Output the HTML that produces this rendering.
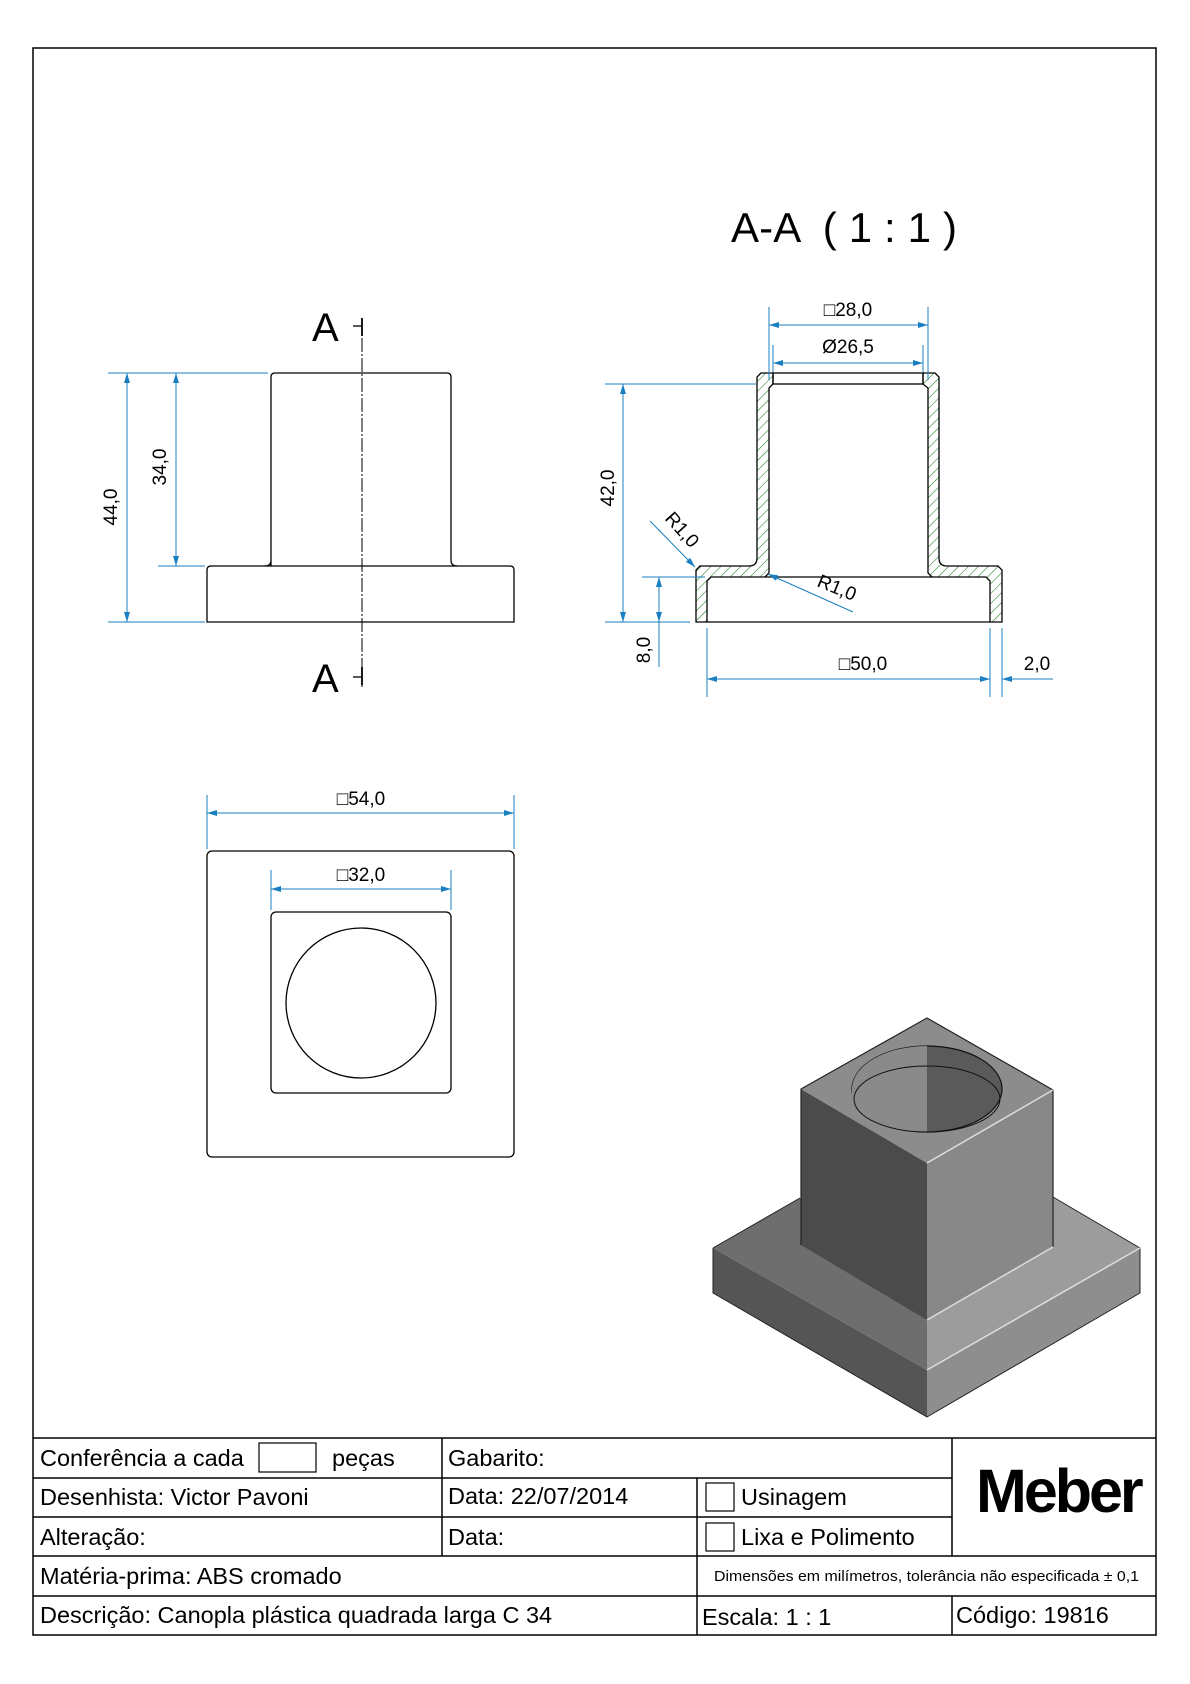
<!DOCTYPE html>
<html><head><meta charset="utf-8"><style>
html,body{margin:0;padding:0;background:#fff}
svg{display:block}
text{font-family:"Liberation Sans",sans-serif}
</style></head><body>
<svg width="1190" height="1684" viewBox="0 0 1190 1684" xmlns="http://www.w3.org/2000/svg">
<defs>
<pattern id="h" patternUnits="userSpaceOnUse" width="7" height="7" patternTransform="rotate(45)">
<line x1="0" y1="0" x2="0" y2="7" stroke="#1f7f1f" stroke-width="1.1"/>
</pattern>
<marker id="a" viewBox="0 0 10 6" refX="10" refY="3" markerWidth="10" markerHeight="6" orient="auto-start-reverse" markerUnits="userSpaceOnUse">
<path d="M0,0 L10,3 L0,6 z" fill="#1a7fc0"/>
</marker>
</defs>
<rect x="33" y="48" width="1123" height="1587" fill="none" stroke="#000" stroke-width="1.5"/>

<!-- Front view -->
<g fill="none" stroke="#000" stroke-width="1.3">
<path d="M271,566 L271,377 Q271,373 275,373 L447,373 Q451,373 451,377 L451,560 Q451,566 457,566 M271,560 Q271,566 265,566"/>
<path d="M211,566 L510,566 Q514,566 514,570 L514,622 L207,622 L207,570 Q207,566 211,566 Z"/>
</g>
<line x1="362" y1="318" x2="362" y2="687" stroke="#000" stroke-width="1" stroke-dasharray="14,2,2,2"/>
<line x1="353" y1="326" x2="362" y2="326" stroke="#000" stroke-width="1.3"/>
<line x1="362" y1="318" x2="362" y2="336" stroke="#000" stroke-width="1.8"/>
<line x1="353" y1="677" x2="362" y2="677" stroke="#000" stroke-width="1.3"/>
<line x1="362" y1="667" x2="362" y2="685" stroke="#000" stroke-width="1.8"/>
<text x="312" y="341" font-size="40">A</text>
<text x="312" y="692" font-size="40">A</text>
<g stroke="#1a7fc0" stroke-width="1" fill="none">
<line x1="108" y1="373" x2="268" y2="373"/>
<line x1="108" y1="622" x2="205" y2="622"/>
<line x1="158" y1="566" x2="205" y2="566"/>
<line x1="127" y1="373" x2="127" y2="622" marker-start="url(#a)" marker-end="url(#a)"/>
<line x1="176" y1="373" x2="176" y2="566" marker-start="url(#a)" marker-end="url(#a)"/>
</g>
<text transform="translate(117,507) rotate(-90)" font-size="19" text-anchor="middle">44,0</text>
<text transform="translate(166,467) rotate(-90)" font-size="19" text-anchor="middle">34,0</text>

<!-- Top view -->
<rect x="207" y="851" width="307" height="306" rx="5" fill="none" stroke="#000" stroke-width="1.3"/>
<rect x="271" y="912" width="180" height="181" rx="5" fill="none" stroke="#000" stroke-width="1.3"/>
<circle cx="361" cy="1003" r="75" fill="none" stroke="#000" stroke-width="1.3"/>
<g stroke="#1a7fc0" stroke-width="1" fill="none">
<line x1="207" y1="795" x2="207" y2="849"/>
<line x1="514" y1="795" x2="514" y2="849"/>
<line x1="207" y1="813" x2="514" y2="813" marker-start="url(#a)" marker-end="url(#a)"/>
<line x1="271" y1="870" x2="271" y2="910"/>
<line x1="451" y1="870" x2="451" y2="910"/>
<line x1="271" y1="889" x2="451" y2="889" marker-start="url(#a)" marker-end="url(#a)"/>
</g>
<text x="361" y="805" font-size="19" text-anchor="middle">□54,0</text>
<text x="361" y="881" font-size="19" text-anchor="middle">□32,0</text>

<!-- Section A-A -->
<text x="731" y="242" font-size="42" xml:space="preserve" textLength="226" lengthAdjust="spacing">A-A  ( 1 : 1 )</text>
<g stroke="#000" stroke-width="1.3" fill="url(#h)">
<path d="M761,373 L757,377 L757,558 Q757,566 749,566 L700,566 L696,570 L696,622 L707,622 L707,581 L711,577 L765,577 L769,573 L769,388 L773,384 L773,373 Z"/>
<path d="M935,373 L939,377 L939,558 Q939,566 947,566 L998,566 L1002,570 L1002,622 L990,622 L990,581 L986,577 L932,577 L928,573 L928,388 L923,384 L923,373 Z"/>
</g>
<g stroke="#000" stroke-width="1.3" fill="none">
<rect x="773" y="373" width="150" height="11"/>
<line x1="765" y1="577" x2="932" y2="577"/>
<line x1="707" y1="622" x2="990" y2="622"/>
</g>
<g stroke="#1a7fc0" stroke-width="1" fill="none">
<line x1="769" y1="307" x2="769" y2="380"/>
<line x1="928" y1="307" x2="928" y2="380"/>
<line x1="769" y1="325" x2="928" y2="325" marker-start="url(#a)" marker-end="url(#a)"/>
<line x1="773" y1="345" x2="773" y2="372"/>
<line x1="923" y1="345" x2="923" y2="372"/>
<line x1="773" y1="363" x2="923" y2="363" marker-start="url(#a)" marker-end="url(#a)"/>
<line x1="605" y1="384" x2="756" y2="384"/>
<line x1="605" y1="622" x2="690" y2="622"/>
<line x1="642" y1="577" x2="705" y2="577"/>
<line x1="623" y1="384" x2="623" y2="622" marker-start="url(#a)" marker-end="url(#a)"/>
<line x1="659" y1="577" x2="659" y2="622" marker-start="url(#a)" marker-end="url(#a)"/>
<line x1="659" y1="622" x2="659" y2="667"/>
<line x1="707" y1="628" x2="707" y2="697"/>
<line x1="990" y1="628" x2="990" y2="697"/>
<line x1="1002" y1="628" x2="1002" y2="697"/>
<line x1="707" y1="679" x2="990" y2="679" marker-start="url(#a)" marker-end="url(#a)"/>
<line x1="1053" y1="679" x2="1002" y2="679" marker-end="url(#a)"/>
<line x1="650" y1="521" x2="695" y2="567" marker-end="url(#a)"/>
<line x1="853" y1="612" x2="768" y2="574" marker-end="url(#a)"/>
</g>
<text x="848" y="316" font-size="19" text-anchor="middle">□28,0</text>
<text x="848" y="353" font-size="19" text-anchor="middle">Ø26,5</text>
<text x="863" y="670" font-size="19" text-anchor="middle">□50,0</text>
<text x="1037" y="670" font-size="19" text-anchor="middle">2,0</text>
<text transform="translate(614,488) rotate(-90)" font-size="19" text-anchor="middle">42,0</text>
<text transform="translate(650,650) rotate(-90)" font-size="19" text-anchor="middle">8,0</text>
<text transform="translate(664,519) rotate(48)" font-size="19">R1,0</text>
<text transform="translate(816,586) rotate(22)" font-size="19">R1,0</text>

<!-- 3D view -->
<g stroke-linejoin="round">
<polygon points="713,1248 927,1370 927,1417 713,1293" fill="#555"/>
<polygon points="927,1370 1140,1248 1140,1293 927,1417" fill="#8e8e8e"/>
<polygon points="713,1248 800,1198 927,1270 927,1370" fill="#6e6e6e"/>
<polygon points="927,1270 1053,1197 1140,1248 927,1370" fill="#9c9c9c"/>
<polygon points="801,1089 927,1163 927,1320 801,1245" fill="#4b4b4b"/>
<polygon points="927,1163 1053,1090 1053,1247 927,1320" fill="#888"/>
<polygon points="927,1018 1053,1090 927,1163 801,1089" fill="#8c8c8c"/>
<path d="M713,1248 L713,1293 L927,1417 L1140,1293 L1140,1248 L1053,1197 M800,1198 L713,1248" fill="none" stroke="#222" stroke-width="1"/>
<path d="M801,1245 L801,1089 L927,1018 L1053,1090 L1053,1247" fill="none" stroke="#222" stroke-width="1.2"/>
<line x1="927" y1="1370" x2="1140" y2="1248" stroke="#ddd" stroke-width="1.5"/>
<line x1="927" y1="1320" x2="1053" y2="1247" stroke="#ddd" stroke-width="1.5"/>
<line x1="927" y1="1163" x2="1053" y2="1090" stroke="#ddd" stroke-width="1.5"/>
<ellipse cx="927" cy="1089" rx="75" ry="43" fill="#5a5a5a" stroke="#111" stroke-width="1.2"/>
<path d="M852,1089 A75,43 0 0,1 927,1046 L927,1132 A75,34 0 0,1 852,1095 Z" fill="#8a8a8a"/>
<ellipse cx="927" cy="1099" rx="73" ry="33" fill="none" stroke="#111" stroke-width="1"/>
</g>

<!-- Title block -->
<g stroke="#000" stroke-width="1.5" fill="none">
<line x1="33" y1="1438" x2="1156" y2="1438"/>
<line x1="33" y1="1478" x2="952" y2="1478"/>
<line x1="33" y1="1517" x2="952" y2="1517"/>
<line x1="33" y1="1556" x2="1156" y2="1556"/>
<line x1="33" y1="1596" x2="1156" y2="1596"/>
<line x1="442" y1="1438" x2="442" y2="1556"/>
<line x1="697" y1="1478" x2="697" y2="1635"/>
<line x1="952" y1="1438" x2="952" y2="1556"/>
<line x1="952" y1="1596" x2="952" y2="1635"/>
<rect x="259" y="1443" width="57" height="29" stroke-width="1.2"/>
<rect x="706" y="1483" width="28" height="28" stroke-width="1.2"/>
<rect x="706" y="1523" width="28" height="28" stroke-width="1.2"/>
</g>
<g font-size="23.5" fill="#000">
<text x="40" y="1466">Conferência a cada</text>
<text x="332" y="1466">peças</text>
<text x="448" y="1466">Gabarito:</text>
<text x="40" y="1505">Desenhista: Victor Pavoni</text>
<text x="448" y="1504">Data: 22/07/2014</text>
<text x="741" y="1505">Usinagem</text>
<text x="40" y="1545">Alteração:</text>
<text x="448" y="1545">Data:</text>
<text x="741" y="1545">Lixa e Polimento</text>
<text x="40" y="1584">Matéria-prima: ABS cromado</text>
<text x="40" y="1623">Descrição: Canopla plástica quadrada larga C 34</text>
<text x="702" y="1625">Escala: 1 : 1</text>
<text x="956" y="1623">Código: 19816</text>
</g>
<text x="714" y="1581" font-size="15" textLength="425" lengthAdjust="spacingAndGlyphs">Dimensões em milímetros, tolerância não especificada ± 0,1</text>
<text x="976" y="1512" font-size="61" font-weight="bold" letter-spacing="-3">Meber</text>
</svg>
</body></html>
